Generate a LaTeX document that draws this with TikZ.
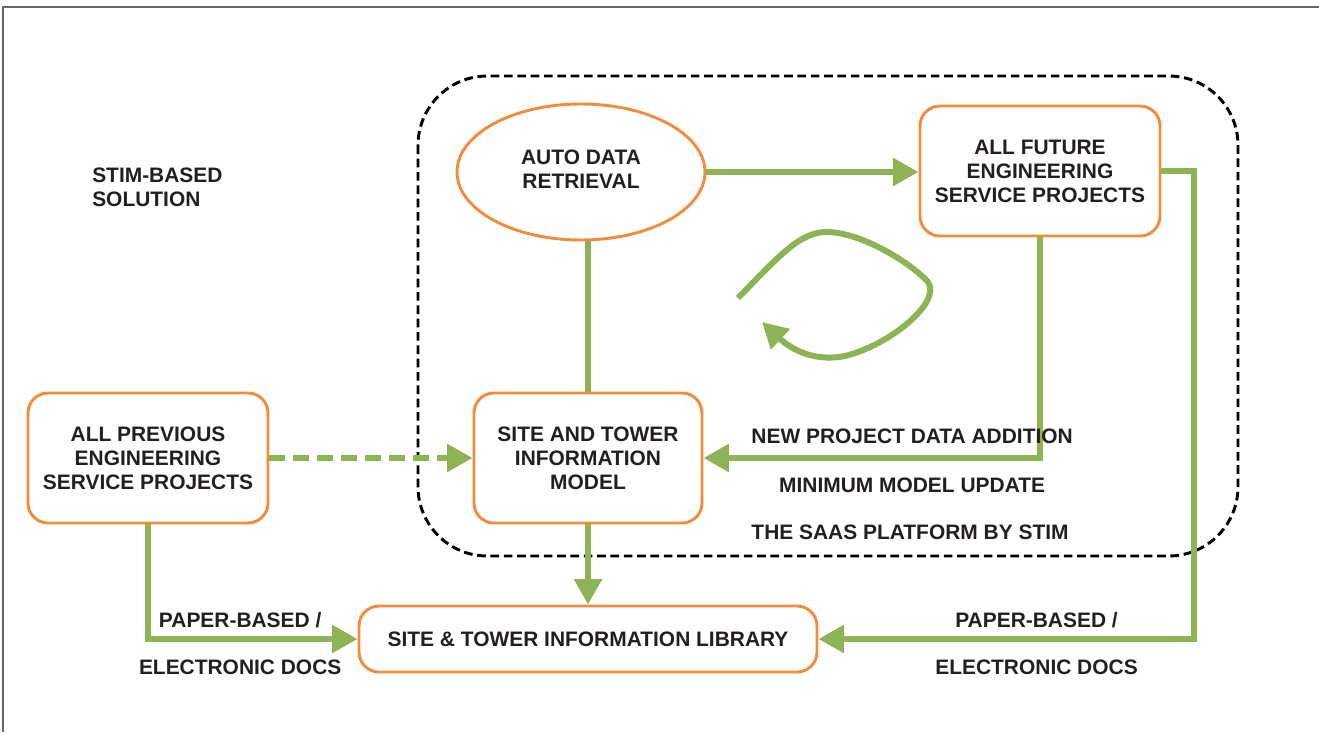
\documentclass[tikz,border=0pt]{standalone}
\usepackage{fontspec}
\setmainfont{Liberation Sans}
\usetikzlibrary{arrows.meta,shapes.geometric}
\definecolor{boxorange}{RGB}{240,140,60}
\definecolor{flowgreen}{RGB}{141,179,84}
\definecolor{textdark}{RGB}{35,31,32}

\begin{document}
\begin{tikzpicture}[
  x=0.75pt,y=-0.75pt,
  every node/.style={font=\bfseries\fontsize{15.7}{18}\selectfont,text=textdark},
  box/.style={draw=boxorange,line width=2.2pt,rounded corners=15pt,align=center,fill=white},
  oval/.style={ellipse,draw=boxorange,line width=2.2pt,align=center,minimum width=186pt,minimum height=102pt,inner sep=0pt},
  flow/.style={draw=flowgreen,line width=4.5pt,-{Triangle[length=19pt,width=20pt]}},
  link/.style={draw=flowgreen,line width=4.5pt},
  tag/.style={inner sep=0pt,text height=11.3pt,text depth=0pt},
  platform/.style={draw=black,line width=2.2pt,dash pattern=on 6.5pt off 3.5pt,rounded corners=52pt}
]
\useasboundingbox (0,0) rectangle (1319,732);
\draw[black!60,line width=1.4pt] (3,732) -- (3,7) -- (1319,7);
\draw[platform] (418,76) rectangle (1238,556);

\node[box,minimum width=180pt,minimum height=97.5pt] (prev) at (148,458) {ALL PREVIOUS\\ENGINEERING\\SERVICE PROJECTS};
\node[box,minimum width=171pt,minimum height=97.5pt] (model) at (588,458) {SITE AND TOWER\\INFORMATION\\MODEL};
\node[box,minimum width=180pt,minimum height=97.5pt] (future) at (1040,171) {ALL FUTURE\\ENGINEERING\\SERVICE PROJECTS};
\node[oval] (retrieval) at (581,172) {\raisebox{5pt}{\begin{tabular}{@{}c@{}}AUTO DATA\\RETRIEVAL\end{tabular}}};
\node[box,minimum width=343.5pt,minimum height=49.5pt] (library) at (588,639) {SITE \& TOWER INFORMATION LIBRARY};
\node[align=left,anchor=west,inner sep=0pt] (solution) at (92,187) {STIM-BASED\\SOLUTION};
\node[tag] (platformname) at (910,532) {THE SAAS PLATFORM BY STIM};

\draw[flow] (retrieval.east) -- (future.west |- retrieval.east);
\draw[link] (model.north) -- (model.north |- retrieval.south);
\draw[flow] (future.south) |- node[tag,pos=0.69,yshift=16.5pt]{NEW PROJECT DATA ADDITION} node[tag,pos=0.69,yshift=-20pt]{MINIMUM MODEL UPDATE} (model.east);
\draw[flow] (future.east) -- ++(33,0) |- node[tag,pos=0.71,yshift=14pt]{PAPER-BASED /} node[tag,pos=0.71,yshift=-21pt]{ELECTRONIC DOCS} (library.east);
\draw[flow] (prev.south) |- node[tag,pos=0.72,yshift=14pt]{PAPER-BASED /} node[tag,pos=0.72,yshift=-21pt]{ELECTRONIC DOCS} (library.west);
\draw[flow,dash pattern=on 12pt off 6pt] (prev.east) -- (model.west);
\draw[flow] (model.south) -- (library.north);
\draw[flow] (738,298) .. controls (780,255) and (800,232) .. (827,232) .. controls (860,232) and (910,262) .. (928,282) .. controls (942,302) and (890,345) .. (845,356) .. controls (815,362) and (792,350) .. (762,322);
\end{tikzpicture}
\end{document}
